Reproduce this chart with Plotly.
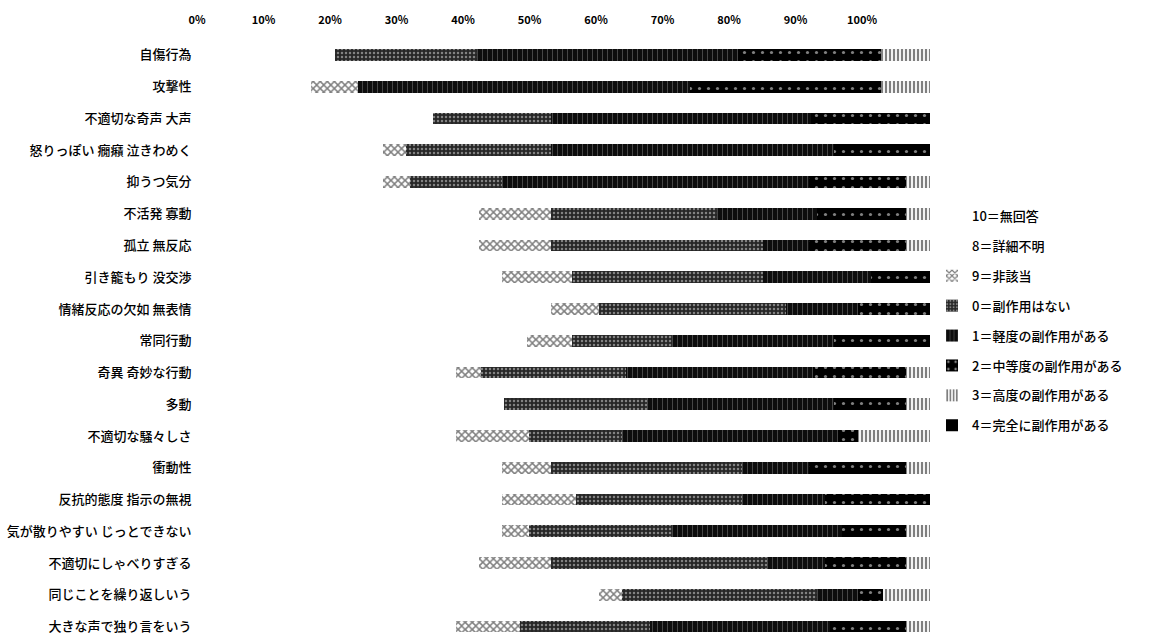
import plotly.graph_objects as go

# Behaviour items, listed top to bottom
items = [
    "自傷行為", "攻撃性", "不適切な奇声 大声", "怒りっぽい 癇癪 泣きわめく", "抑うつ気分",
    "不活発 寡動", "孤立 無反応", "引き籠もり 没交渉", "情緒反応の欠如 無表情", "常同行動",
    "奇異 奇妙な行動", "多動", "不適切な騒々しさ", "衝動性", "反抗的態度 指示の無視",
    "気が散りやすい じっとできない", "不適切にしゃべりすぎる", "同じことを繰り返しいう",
    "大きな声で独り言をいう",
]

# Share of answers (%) per rating, same order as items
no_answer   = [2.0, 1.5, 3.0, 2.5, 2.5, 3.0, 3.0, 3.5, 4.0, 3.5, 3.0, 3.5, 3.0, 3.5, 3.5, 3.5, 3.0, 4.0, 3.0]
unknown     = [8.5, 5.4, 22.3, 15.2, 15.2, 29.2, 29.2, 32.1, 39.0, 35.9, 25.7, 32.4, 25.7, 32.1, 32.1, 32.1, 29.2, 46.2, 25.7]
not_applic  = [0.0, 7.1, 0.0, 3.5, 4.1, 10.8, 10.8, 10.6, 7.2, 6.8, 3.8, 0.0, 11.0, 7.4, 11.2, 4.1, 10.8, 3.5, 9.7]
no_effect   = [21.4, 0.0, 17.7, 21.8, 13.8, 25.0, 31.9, 28.7, 28.2, 15.0, 21.8, 21.5, 14.0, 28.7, 24.9, 21.5, 32.5, 29.3, 19.5]
mild        = [39.2, 49.9, 39.1, 42.6, 46.2, 15.0, 6.9, 16.2, 10.8, 24.4, 28.1, 28.2, 32.5, 10.1, 12.5, 25.6, 8.7, 6.2, 27.1]
moderate    = [21.5, 28.7, 17.9, 14.4, 14.6, 13.4, 14.6, 8.9, 10.8, 14.4, 14.0, 10.8, 3.0, 14.6, 15.8, 9.6, 12.2, 3.7, 11.4]
severe      = [7.4, 7.4, 0.0, 0.0, 3.6, 3.6, 3.6, 0.0, 0.0, 0.0, 3.6, 3.6, 10.8, 3.6, 0.0, 3.6, 3.6, 7.1, 3.6]
complete    = [0.0] * 19

series_names = [
    "10＝無回答", "8＝詳細不明", "9＝非該当", "0＝副作用はない",
    "1＝軽度の副作用がある", "2＝中等度の副作用がある", "3＝高度の副作用がある", "4＝完全に副作用がある",
]
series_values = [no_answer, unknown, not_applic, no_effect, mild, moderate, severe, complete]

tick_values = [0, 10, 20, 30, 40, 50, 60, 70, 80, 90, 100]
tick_labels = ["0%", "10%", "20%", "30%", "40%", "50%", "60%", "70%", "80%", "90%", "100%"]

CLEAR = "rgba(0,0,0,0)"
styles = [
    dict(color=CLEAR),
    dict(color=CLEAR),
    dict(color="white", pattern=dict(shape="x", fgcolor="black", bgcolor="white", size=5, solidity=0.5)),
    dict(color="#262626", pattern=dict(shape=".", fgcolor="#dddddd", bgcolor="#262626", size=4, solidity=0.3)),
    dict(color="#0d0d0d", pattern=dict(shape="|", fgcolor="#cccccc", bgcolor="#0d0d0d", size=5, solidity=0.12)),
    dict(color="black", pattern=dict(shape=".", fgcolor="white", bgcolor="black", size=9, solidity=0.1)),
    dict(color="white", pattern=dict(shape="|", fgcolor="black", bgcolor="white", size=4, solidity=0.55)),
    dict(color="black"),
]

FONT = "Noto Sans CJK JP"
fig = go.Figure()
for i, (name, vals, st) in enumerate(zip(series_names, series_values, styles)):
    fig.add_trace(go.Bar(
        y=items, x=vals, name=name, orientation="h",
        marker=dict(line=dict(width=0), **st),
        legendgroup=f"g{i}",
    ))

# printed percentage scale along the top
fig.add_trace(go.Scatter(x=[], y=[], xaxis="x2", yaxis="y", showlegend=False, hoverinfo="skip"))

W, H = 1154, 639
L, R = 190, 930
fig.update_layout(
    width=W, height=H,
    margin=dict(l=L, r=W - R, t=39, b=0),
    barmode="stack", bargap=0.63,
    plot_bgcolor=CLEAR, paper_bgcolor="white",
    font=dict(family=FONT, size=12, color="black"),
    xaxis=dict(domain=[(200 - L) / (R - L), 1], range=[(200 - 265) / 6.65, 100],
               showticklabels=False, showgrid=False, zeroline=False, showline=False),
    xaxis2=dict(domain=[0, 1], range=[(L - 197) / 6.65, (R - 197) / 6.65], anchor="y", side="top",
                tickvals=tick_values, ticktext=tick_labels, ticks="outside", ticklen=10,
                tickcolor=CLEAR, showgrid=False, zeroline=False, showline=False,
                tickfont=dict(family=FONT, size=11, color="black", weight="bold")),
    yaxis=dict(type="category", range=[18.39, -0.5], autorange=False, anchor="x",
               showgrid=False, zeroline=False, showline=False,
               ticks="outside", ticklen=5, tickcolor=CLEAR,
               tickfont=dict(family=FONT, size=13, color="black", weight=500)),
    legend=dict(xref="container", yref="container", x=932 / W, y=1 - 201 / H,
                xanchor="left", yanchor="top", traceorder="grouped", tracegroupgap=10,
                font=dict(family=FONT, size=13, color="black", weight=500), bgcolor=CLEAR),
    showlegend=True,
)

fig.write_html("out.html")
